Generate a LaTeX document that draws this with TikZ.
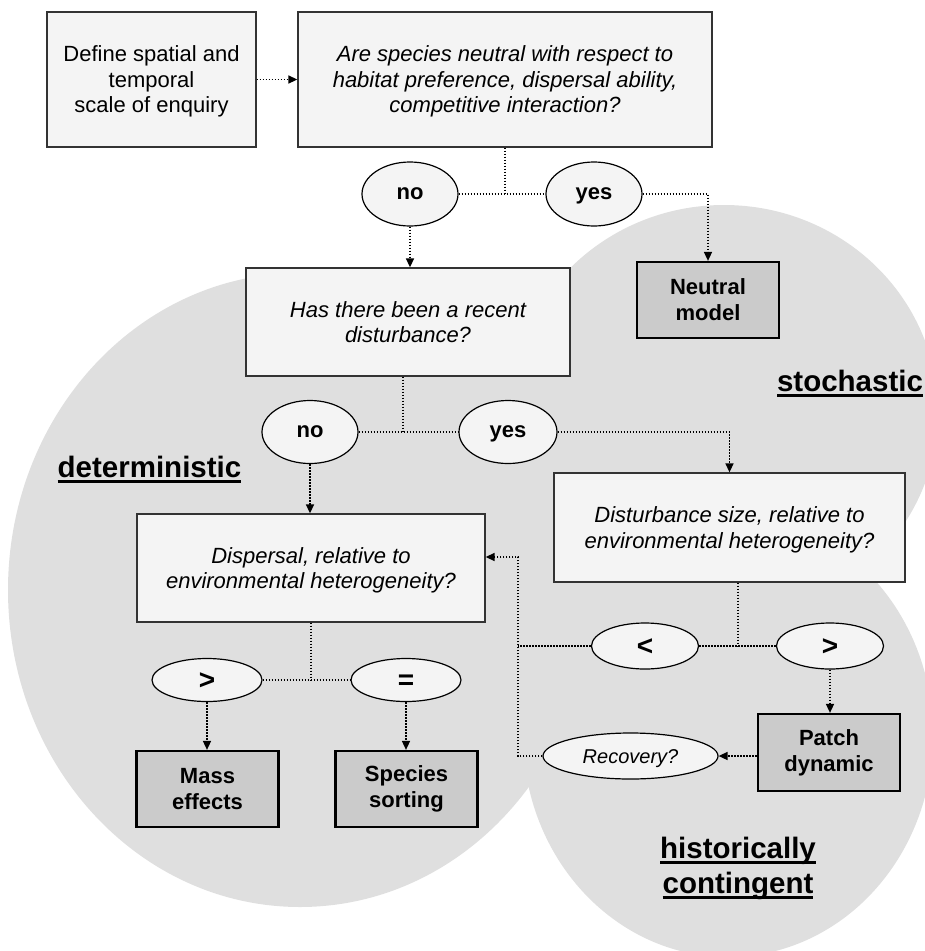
\documentclass[tikz,border=0pt]{standalone}
\usepackage{fontspec}
\setmainfont{Liberation Sans}
\usetikzlibrary{arrows.meta,shapes.geometric}

\definecolor{boxgray}{HTML}{F4F4F4}
\definecolor{endgray}{HTML}{CBCBCB}
\definecolor{zonegray}{HTML}{DFDFDF}
\definecolor{edgegray}{HTML}{333333}
\newcommand{\zoneline}[1]{\setbox0\hbox{#1}\rlap{\rule[-5.5pt]{\wd0}{2.5pt}}\box0}

\begin{document}
\begin{tikzpicture}[x=1pt,y=-1pt,>={Triangle[length=9pt,width=8pt]},
        query/.style={draw=edgegray,line width=1.3pt,fill=boxgray,inner sep=0pt,align=center,
          text depth=-3pt,font=\fontsize{22}{25.5}\selectfont\itshape},
        result/.style={draw=black,line width=2.2pt,fill=endgray,inner sep=0pt,align=center,
          font=\fontsize{22}{26}\selectfont\bfseries,minimum width=142pt,minimum height=76pt},
        choice/.style={ellipse,draw=black,line width=1.2pt,fill=boxgray,inner sep=0pt,
          text height=11.4pt,text depth=0pt,font=\fontsize{22}{26}\selectfont\bfseries},
        sign/.style={choice,minimum width=107pt,minimum height=46pt,text height=19.6pt,
          font=\fontsize{28}{30}\selectfont\bfseries},
        link/.style={line width=1.5pt,dash pattern=on 1.5pt off 1.5pt},
        zone/.style={font=\fontsize{29.5}{35}\selectfont\bfseries,align=center}]

  \useasboundingbox (0,0) rectangle (925,951);

  % the three regions
  \fill[zonegray] (300,590) ellipse [x radius=292pt, y radius=317pt];
  \fill[zonegray] (724,412) ellipse [x radius=214pt, y radius=207pt];
  \fill[zonegray] (728,735) ellipse [x radius=205pt, y radius=222pt];

  \node[zone,anchor=base] (determ) at (149.5,477) {\zoneline{deterministic}};
  \node[zone,anchor=base] (stoch) at (850,391) {\zoneline{stochastic}};
  \node[zone] (hist) at (738,868) {\zoneline{historically}\\\zoneline{contingent}};

  % questions and answers
  \node[query,font=\fontsize{22}{25.5}\selectfont,minimum width=209pt,minimum height=135pt]
    (scope) at (151.5,79.5) {Define spatial and\\temporal\\scale of enquiry};
  \node[query,minimum width=414pt,minimum height=135pt] (neutralq) at (505,79.5)
    {Are species neutral with respect to\\habitat preference, dispersal ability,\\competitive interaction?};
  \node[choice,minimum width=96pt,minimum height=64pt] (no1) at (410,194) {no};
  \node[choice,minimum width=96pt,minimum height=64pt] (yes1) at (594,194) {yes};
  \node[result] (neutral) at (708,300) {Neutral\\model};

  \node[query,minimum width=324pt,minimum height=108pt] (disturb) at (408,322)
    {Has there been a recent\\disturbance?};
  \node[choice,minimum width=96pt,minimum height=63pt] (no2) at (310,432) {no};
  \node[choice,minimum width=98pt,minimum height=63pt] (yes2) at (508,432) {yes};

  \node[query,minimum width=348pt,minimum height=108pt] (dispersal) at (311,568)
    {Dispersal, relative to\\environmental heterogeneity?};
  \node[query,minimum width=351pt,minimum height=109pt] (size) at (729.5,527.5)
    {Disturbance size, relative to\\environmental heterogeneity?};

  \node[sign,minimum width=110pt,minimum height=43pt] (more) at (207,680) {>};
  \node[sign,minimum width=110pt,minimum height=43pt] (same) at (406,680) {=};
  \node[result] (mass) at (207.5,789) {Mass\\effects};
  \node[result] (sorting) at (406.5,789) {Species\\sorting};

  \node[sign] (less) at (645,646) {<};
  \node[sign] (larger) at (830,646) {>};
  \node[result,minimum height=77pt] (patch) at (829,752.5) {Patch\\dynamic};
  \node[choice,font=\fontsize{20}{24}\selectfont\itshape,text height=14.3pt,
    minimum width=175pt,minimum height=46pt] (recovery) at (630.5,756) {Recovery?};

  % connectors
  \draw[link,->] (scope) -- (neutralq);
  \draw[link] (neutralq.south) -- (neutralq.south |- no1);
  \draw[link] (no1) -- (yes1);
  \draw[link,->] (yes1) -| (neutral);
  \draw[link,->] (no1) -- (no1 |- disturb.north);

  \draw[link] ([xshift=-5pt]disturb.south) -- ([xshift=-5pt]disturb.south |- no2);
  \draw[link] (no2) -- (yes2);
  \draw[link,->] (yes2) -| (size);
  \draw[link,->] (no2) -- (no2 |- dispersal.north);

  \draw[link] (dispersal.south) -- (dispersal.south |- more);
  \draw[link] (more) -- (same);
  \draw[link,->] (more) -- (more |- mass.north);
  \draw[link,->] (same) -- (same |- sorting.north);

  \draw[link] ([xshift=8.5pt]size.south) -- ([xshift=8.5pt]size.south |- less);
  \draw[link] (less) -- (larger);
  \coordinate (back) at (518,646);
  \draw[link] (less) -- (back);
  \draw[link,->] (recovery) -| (back) |- ([yshift=11pt]dispersal.east);
  \draw[link,->] (larger) -- (larger |- patch.north);
  \draw[link,->] (patch.west |- recovery) -- (recovery);

\end{tikzpicture}
\end{document}
